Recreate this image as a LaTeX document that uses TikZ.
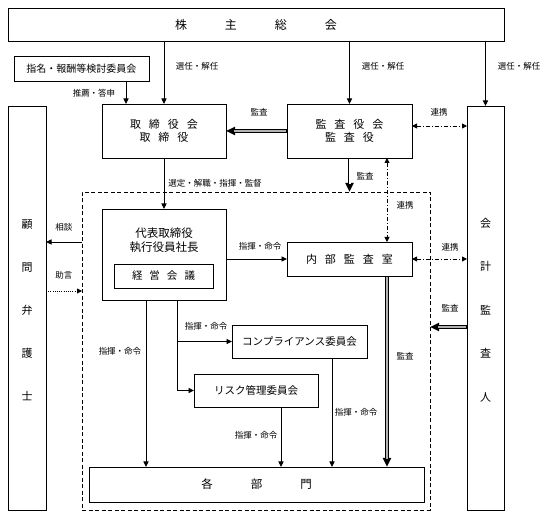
\documentclass[tikz,border=0pt]{standalone}
\usepackage{fontspec}
\newfontfamily\jp{Noto Sans CJK JP}
\usetikzlibrary{arrows.meta}
\begin{document}
\begin{tikzpicture}[x=1pt,y=-1pt,
  box/.style={draw, line width=0.8pt, inner sep=0pt, outer sep=0pt, font=\jp\fontsize{11}{13}\selectfont, align=center},
  arr/.style={line width=0.9pt, -{Triangle[length=5.5pt,width=5pt]}},
  dbl/.style={draw=black, line width=3.6pt, -{Triangle[length=9pt,width=8pt]},
     postaction={draw=#1, line width=2pt, -, shorten >=8pt, shorten <=0.8pt}},
  dbl/.default={gray!60},
  dd/.style={line width=0.9pt, dash pattern=on 4pt off 2pt on 1pt off 2pt, {Triangle[length=5pt,width=5pt]}-{Triangle[length=5pt,width=5pt]}},
  lbl/.style={font=\jp\fontsize{8.5}{10}\selectfont, inner sep=0pt},
  txt/.style={font=\jp\fontsize{11}{13}\selectfont, align=center, inner sep=0pt}]
\useasboundingbox (0,0) rectangle (550,521);
% boxes
\node[box, minimum width=496pt, minimum height=33pt, font=\jp\fontsize{12}{14}\selectfont] (soukai) at (256,24.5) {株\hspace{38pt}主\hspace{38pt}総\hspace{38pt}会};
\node[box, minimum width=135pt, minimum height=25pt, font=\jp\fontsize{10}{12}\selectfont] (shimei) at (81.5,68.5) {指名・報酬等検討委員会};
\node[box, minimum width=124pt, minimum height=54pt] (tb) at (164,131) {取\hspace{8pt}締\hspace{8pt}役\hspace{8pt}会\\取\hspace{8pt}締\hspace{8pt}役};
\node[box, minimum width=125pt, minimum height=54pt] (kansa) at (349.5,131) {監\hspace{8pt}査\hspace{8pt}役\hspace{8pt}会\\監\hspace{8pt}査\hspace{8pt}役};
\node[box, minimum width=37pt, minimum height=404pt] (kaikei) at (485.5,308) {};
\node[txt, font=\jp\fontsize{11}{43.5}\selectfont] (kaikeiT) at (485.5,310) {会\\計\\監\\査\\人};
\node[box, minimum width=38pt, minimum height=404pt] (komon) at (27,308) {};
\node[txt, font=\jp\fontsize{11}{43}\selectfont] (komonT) at (27,310) {顧\\問\\弁\\護\\士};
\node[draw, line width=0.9pt, dash pattern=on 4pt off 2.5pt, inner sep=0pt, outer sep=0pt, minimum width=348pt, minimum height=318pt] (org) at (256,351) {};
\node[box, minimum width=124pt, minimum height=91pt] (daihyo) at (164,254.5) {};
\node[txt, font=\jp\fontsize{11.5}{14}\selectfont] (daihyoT) at (164,240) {代表取締役\\執行役員社長};
\node[box, minimum width=99pt, minimum height=24pt, font=\jp\fontsize{10.5}{12}\selectfont] (keiei) at (163.5,276) {経\hspace{7pt}営\hspace{7pt}会\hspace{7pt}議};
\node[box, minimum width=125pt, minimum height=34pt] (naibu) at (349.5,259) {内\hspace{8pt}部\hspace{8pt}監\hspace{8pt}査\hspace{8pt}室};
\node[box, minimum width=135pt, minimum height=33pt, font=\jp\fontsize{10.5}{12}\selectfont] (comp) at (299.5,341.5) {コンプライアンス委員会};
\node[box, minimum width=124pt, minimum height=33pt, font=\jp\fontsize{10.5}{12}\selectfont] (risk) at (256,390.5) {リスク管理委員会};
\node[box, minimum width=335pt, minimum height=35pt, font=\jp\fontsize{11.5}{13}\selectfont] (kakubu) at (256.5,484.5) {各\hspace{38pt}部\hspace{38pt}門};
% helper coordinates
\coordinate (c126) at (126,0);
\coordinate (y126) at (0,126);
\coordinate (x387) at (387,0);
\coordinate (y242) at (0,242);
\coordinate (y291) at (0,291);
\coordinate (y327) at (0,327);
\coordinate (x146) at (146,0);
\coordinate (x177) at (177,0);
\coordinate (x332) at (332,0);
\coordinate (x281) at (281,0);
% connectors
\draw[arr] (tb.north |- soukai.south) -- (tb.north);
\draw[arr] (kansa.north |- soukai.south) -- (kansa.north);
\draw[arr] (kaikei.north |- soukai.south) -- (kaikei.north);
\draw[arr] (shimei.south -| c126) -- (tb.north -| c126);
\draw[dbl] (kansa.west) -- (tb.east);
\draw[dd] (kansa.east |- y126) -- (kaikei.west |- y126);
\draw[dbl=white] (kansa.south) -- (kansa.south |- org.north);
\draw[dd] (kansa.south -| x387) -- (naibu.north -| x387);
\draw[arr] (tb.south) -- (daihyo.north);
\draw[arr] (org.west |- y242) -- (komon.east |- y242);
\draw[line width=0.9pt, dash pattern=on 1pt off 1.2pt, -{Triangle[length=5pt,width=5pt]}] (komon.east |- y291) -- (org.west |- y291);
\draw[arr] (daihyo.east |- naibu.west) -- (naibu.west);
\draw[dd] (naibu.east) -- (naibu.east -| kaikei.west);
\draw[dbl] (kaikei.west |- y327) -- (org.east |- y327);
\draw[dbl] (naibu.south -| x387) -- (kakubu.north -| x387);
\draw[arr] (daihyo.south -| x146) -- (kakubu.north -| x146);
\draw[arr] (daihyo.south -| x177) |- (risk.west);
\draw[arr] (x177 |- comp.west) -- (comp.west);
\draw[arr] (comp.south -| x332) -- (kakubu.north -| x332);
\draw[arr] (risk.south -| x281) -- (kakubu.north -| x281);
% labels
\node[lbl] (l1) at (197,66) {選任・解任};
\node[lbl] (l2) at (383,66) {選任・解任};
\node[lbl] (l3) at (519,66) {選任・解任};
\node[lbl] (l4) at (94,93) {推薦・答申};
\node[lbl] (l5) at (259,112) {監査};
\node[lbl] (l6) at (439,112) {連携};
\node[lbl] (l7) at (365,176) {監査};
\node[lbl] (l8) at (405,205) {連携};
\node[lbl] (l9) at (215,183) {選定・解職・指揮・監督};
\node[lbl] (l10) at (64,227) {相談};
\node[lbl] (l11) at (64,275) {助言};
\node[lbl] (l12) at (260,246) {指揮・命令};
\node[lbl] (l13) at (450,247) {連携};
\node[lbl] (l14) at (450,308) {監査};
\node[lbl] (l15) at (405,356) {監査};
\node[lbl] (l16) at (120,351) {指揮・命令};
\node[lbl] (l17) at (206,326) {指揮・命令};
\node[lbl] (l18) at (356,412) {指揮・命令};
\node[lbl] (l19) at (256,435) {指揮・命令};
\end{tikzpicture}
\end{document}
